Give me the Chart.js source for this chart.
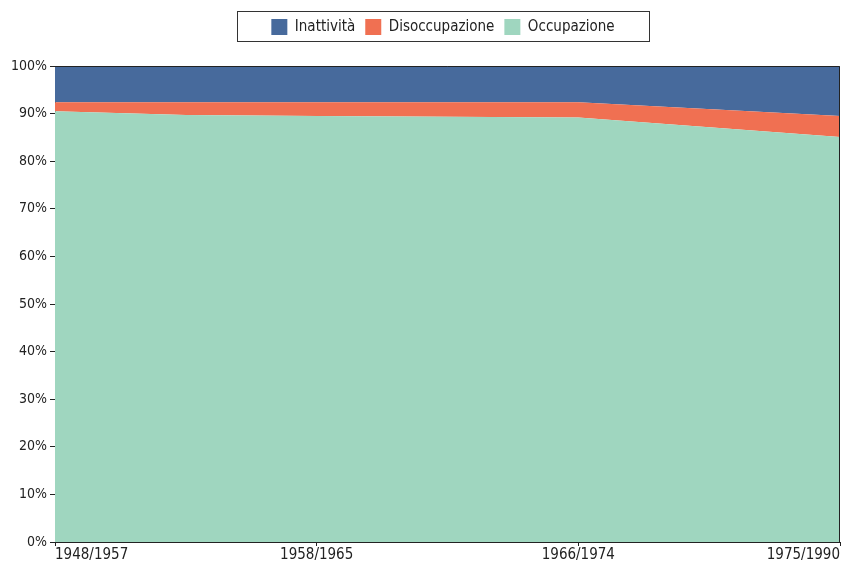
<!DOCTYPE html>
<html>
<head>
<meta charset="utf-8">
<script src="https://cdn.jsdelivr.net/npm/chart.js@4/dist/chart.umd.min.js"></script>
<style>
  html, body { margin: 0; padding: 0; background: #fff; }
  #wrap { width: 841px; height: 566px; }
</style>
</head>
<body>
<div id="wrap"><canvas id="chart" width="841" height="566"></canvas></div>
<script>
// periods on the x axis (positions 0..3)
const periodLabels = ['1948/1957', '1958/1965', '1966/1974', '1975/1990'];
const xPositions = [0, 0.5, 1, 2, 3];

// shares in percent, stacked bottom to top
const occupazione = [90.5, 89.7, 89.5, 89.2, 85.1];
const disoccupazione = [1.9, 2.7, 2.9, 3.2, 4.4];
const inattivita = [7.6, 7.6, 7.6, 7.6, 10.5];

const FONT = '"DejaVu Sans Condensed", "DejaVu Sans", sans-serif';
const INK = '#222';

function toPoints(values) {
    return values.map((v, i) => ({ x: xPositions[i], y: v }));
}

const frame = {
    id: 'frame',
    beforeInit(chart) {
        const legend = chart.legend;
        // leave room between legend and plot
        const origFit = legend.fit;
        legend.fit = function () {
            origFit.call(this);
            this.height += 20;
        };
        // legend sits centred over the plot area, not the canvas
        const origDraw = legend.draw;
        legend.draw = function () {
            const ctx = this.ctx;
            ctx.save();
            ctx.translate(23, -1);
            origDraw.apply(this, arguments);
            ctx.restore();
        };
    },
    afterDraw(chart) {
        const ctx = chart.ctx;
        const a = chart.chartArea;
        ctx.save();
        ctx.strokeStyle = INK;
        ctx.lineWidth = 1;
        ctx.beginPath();
        ctx.moveTo(a.left, a.top + 0.5);
        ctx.lineTo(a.right - 0.5, a.top + 0.5);
        ctx.lineTo(a.right - 0.5, a.bottom);
        ctx.stroke();

        // box round the legend
        ctx.strokeStyle = '#333';
        ctx.strokeRect(237.5, 11.5, 412, 30);
        ctx.restore();
    }
};

new Chart(document.getElementById('chart'), {
    type: 'line',
    data: {
        datasets: [
            {
                label: 'Occupazione',
                data: toPoints(occupazione),
                backgroundColor: '#9fd6bf',
                borderColor: '#9fd6bf',
                fill: 'origin'
            },
            {
                label: 'Disoccupazione',
                data: toPoints(disoccupazione),
                backgroundColor: '#f07052',
                borderColor: '#f07052',
                fill: '-1'
            },
            {
                label: 'Inattività',
                data: toPoints(inattivita),
                backgroundColor: '#476a9c',
                borderColor: '#476a9c',
                fill: '-1'
            }
        ]
    },
    options: {
        responsive: false,
        animation: false,
        layout: { padding: { top: 10, right: 1, left: 0, bottom: 0 } },
        elements: {
            point: { radius: 0 },
            line: { borderWidth: 0, tension: 0 }
        },
        plugins: {
            tooltip: { enabled: false },
            legend: {
                position: 'top',
                reverse: true,
                labels: {
                    color: INK,
                    font: { family: FONT, size: 15 },
                    boxWidth: 16,
                    boxHeight: 16,
                    padding: 10
                }
            }
        },
        scales: {
            x: {
                type: 'linear',
                min: 0,
                max: 3,
                afterBuildTicks(scale) {
                    scale.ticks = periodLabels.map((l, i) => ({ value: i }));
                },
                afterFit(scale) {
                    scale.height = 24;
                    scale.paddingLeft = 0;
                    scale.paddingRight = 0;
                },
                ticks: {
                    color: INK,
                    font: { family: FONT, size: 15 },
                    padding: 0,
                    maxRotation: 0,
                    align: 'inner',
                    callback: v => periodLabels[v]
                },
                grid: { display: true, drawOnChartArea: false, drawTicks: true, tickLength: 4, color: INK },
                border: { display: true, color: INK }
            },
            y: {
                stacked: true,
                min: 0,
                max: 100,
                afterFit(scale) { scale.width = 55; },
                ticks: {
                    stepSize: 10,
                    color: INK,
                    font: { family: FONT, size: 14 },
                    padding: 3,
                    callback: v => v + '%'
                },
                grid: { display: true, drawOnChartArea: false, drawTicks: true, tickLength: 5, color: INK },
                border: { display: true, color: INK }
            }
        }
    },
    plugins: [frame]
});
</script>
</body>
</html>
